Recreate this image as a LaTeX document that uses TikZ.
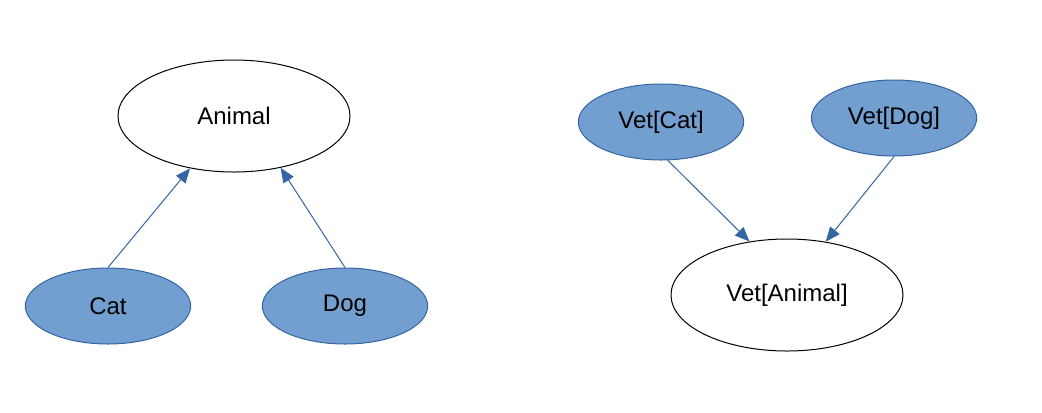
\documentclass[tikz,border=0pt]{standalone}
\usepackage{fontspec}
\setmainfont{Liberation Sans}
\usepackage{tikz}
\usetikzlibrary{arrows.meta}
\usetikzlibrary{shapes.geometric}
\definecolor{typeblue}{HTML}{729FCF}
\definecolor{typeedge}{HTML}{3465A4}
\begin{document}
\begin{tikzpicture}[x=0.75pt,y=-0.75pt,
  every node/.style={ellipse,draw,line width=0.75pt,inner sep=0pt,font=\fontsize{18}{21}\selectfont},
  big/.style={minimum width=174pt,minimum height=84pt,fill=white,draw=black},
  small/.style={minimum width=124pt,minimum height=57pt,fill=typeblue,draw=typeedge},
  sub/.style={typeedge,line width=0.75pt,-{Triangle[length=11pt,width=9pt]}}]
  \useasboundingbox (0,0) rectangle (1042,412);
  \node[big] (animal) at (234,116) {Animal};
  \node[small] (cat) at (108,306) {Cat};
  \node[small] (dog) at (345,306) {Dog};
  \node[small] (vetcat) at (661,122) {Vet[Cat]};
  \node[small] (vetdog) at (894,118) {Vet[Dog]};
  \node[big] (vetanimal) at (787,295) {Vet[Animal]};
  \draw[sub](cat.north)--(animal.230);
  \draw[sub](dog.north)--(animal.312);
  \draw[sub](vetcat.280)--(vetanimal.125);
  \draw[sub](vetdog.south)--(vetanimal.54);
  \end{tikzpicture}
\end{document}
